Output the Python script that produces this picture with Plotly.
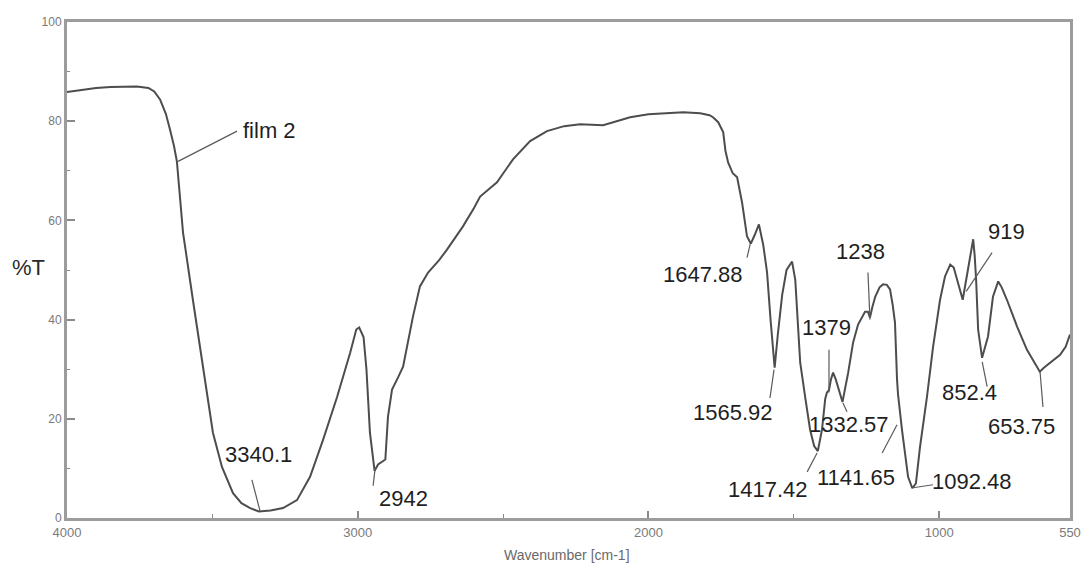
import plotly.graph_objects as go

# FTIR transmittance spectrum of film 2
wavenumber = [
    4000, 3950, 3900, 3850, 3800, 3760, 3720, 3700, 3680, 3660, 3646, 3632, 3622,
    3601, 3567, 3532, 3498, 3467, 3429, 3400, 3370, 3340.1, 3300, 3257, 3209, 3164,
    3119, 3071, 3026, 3005, 2995, 2980, 2970, 2958, 2942, 2930, 2915, 2905, 2896,
    2882, 2860, 2844, 2810, 2786, 2758, 2720, 2693, 2638, 2600, 2579, 2521, 2466,
    2407, 2349, 2290, 2235, 2156, 2100, 2063, 2000, 1950, 1880, 1822, 1790, 1778,
    1760, 1743, 1735, 1726, 1710, 1695, 1686, 1678, 1661, 1647.88, 1635, 1620, 1605,
    1592, 1580, 1565.92, 1555, 1540, 1525, 1506, 1495, 1478, 1460, 1444, 1430,
    1417.42, 1403, 1392, 1386, 1379, 1372, 1365, 1356, 1348, 1332.57, 1313, 1296,
    1279, 1255, 1245, 1238, 1230, 1220, 1205, 1193, 1180, 1169, 1160, 1152, 1145,
    1141.65, 1128, 1107, 1092.48, 1080, 1066, 1042, 1021, 997, 980, 962, 950, 938,
    919, 901, 890, 883, 878, 873, 866, 852.4, 832, 815, 797, 785, 767, 732, 698,
    663, 653.75, 640, 619, 584, 565, 556, 550,
]
transmittance = [
    85.9, 86.3, 86.7, 86.9, 87.0, 87.0, 86.7, 86.0, 84.4, 81.5, 78.4, 75.0, 71.9,
    57.6, 44.0, 30.5, 17.2, 10.3, 5.0, 3.0, 2.0, 1.3, 1.5, 2.0, 3.6, 8.3,
    15.8, 24.4, 33.3, 38.0, 38.4, 36.5, 30.0, 17.2, 9.5, 10.8, 11.3, 11.8, 20.4,
    25.9, 28.5, 30.5, 40.6, 46.7, 49.5, 52.0, 54.1, 58.8, 62.5, 64.8, 67.7, 72.3,
    76.0, 78.0, 79.0, 79.4, 79.2, 80.2, 80.8, 81.4, 81.6, 81.8, 81.6, 81.2, 80.8,
    79.8, 77.8, 74.0, 71.7, 69.5, 68.7, 66.0, 63.6, 56.8, 55.3, 57.0, 59.2, 55.0,
    49.5, 40.0, 30.3, 37.0, 45.0, 50.0, 51.7, 48.0, 31.3, 24.0, 17.8, 14.5,
    13.5, 17.8, 24.0, 25.3, 25.8, 28.0, 29.3, 28.0, 26.5, 23.4, 29.3, 35.4,
    39.0, 41.6, 41.6, 40.4, 42.5, 44.6, 46.5, 47.1, 47.0, 46.1, 43.0, 39.4, 28.0,
    25.0, 17.8, 8.3, 6.0, 7.0, 14.3, 24.4, 34.5, 44.0, 48.7, 51.1, 50.5, 48.1,
    44.0, 50.1, 54.0, 56.2, 53.0, 48.1, 38.0, 32.3, 36.6, 44.6, 47.7, 46.5, 44.0, 38.6, 33.9,
    30.5, 29.5, 30.3, 31.3, 32.9, 34.5, 36.0, 37.0,
]

# Axis ticks
x_tick_vals = [4000, 3000, 2000, 1000, 550]
x_tick_text = ["4000", "3000", "2000", "1000", "550"]
y_tick_vals = [0, 20, 40, 60, 80, 100]
y_tick_text = ["0", "20", "40", "60", "80", "100"]

# Peak labels
label_texts = ["film 2", "3340.1", "2942", "1647.88", "1565.92", "1417.42", "1379",
               "1332.57", "1238", "1141.65", "1092.48", "919", "852.4", "653.75"]

# Label placement: text centre (wavenumber, %T) and leader line end points
label_pos = [
    (3302, 78.2), (3340, 12.9), (2844, 4.0), (1812, 49.1), (1709, 21.2),
    (1589, 5.7), (1389, 38.4), (1310, 18.8), (1269, 53.7), (1286, 8.1),
    (887, 7.3), (770, 57.8), (897, 25.3), (718, 18.4),
]
leaders = [
    ((3618, 71.9), (3415, 78.0)),
    ((3364, 7.7), (3336, 1.4)),
    ((2940, 10.1), (2947, 6.5)),
    ((1650, 55.2), (1661, 52.5)),
    ((1568, 29.9), (1582, 24.2)),
    ((1420, 13.1), (1454, 9.3)),
    ((1379, 33.9), (1379, 25.3)),
    ((1331, 23.2), (1317, 21.4)),
    ((1245, 49.5), (1238, 40.0)),
    ((1145, 18.8), (1196, 13.1)),
    ((1090, 6.1), (1021, 6.7)),
    ((907, 45.7), (818, 53.5)),
    ((852, 31.5), (835, 26.5)),
    ((653, 29.5), (643, 22.4)),
]

AXIS_GREY = "#9c9c9c"
LABEL_FONT = dict(family="Liberation Sans, Arial, sans-serif", size=22, color="#1f1f1f")

fig = go.Figure()
fig.add_trace(go.Scatter(
    x=wavenumber, y=transmittance, mode="lines",
    line=dict(color="#4d4d4d", width=2),
    showlegend=False, hoverinfo="x+y",
))

for text, (lx, ly) in zip(label_texts, label_pos):
    fig.add_annotation(x=lx, y=ly, xref="x", yref="y", text=text,
                       showarrow=False, font=LABEL_FONT,
                       xanchor="center", yanchor="middle")

for (p0, p1) in leaders:
    fig.add_shape(type="line", xref="x", yref="y",
                  x0=p0[0], y0=p0[1], x1=p1[0], y1=p1[1],
                  line=dict(color="#5a5a5a", width=1.2))

fig.update_layout(
    width=1082, height=565,
    margin=dict(l=67, r=12, t=22, b=47, autoexpand=False),
    paper_bgcolor="white", plot_bgcolor="white",
    font=dict(family="Liberation Sans, Arial, sans-serif"),
    xaxis=dict(
        range=[4000, 550], tickmode="array",
        tickvals=x_tick_vals, ticktext=x_tick_text,
        ticks="inside", ticklen=7, tickwidth=1.5, tickcolor="#8a8a8a",
        minor=dict(tickvals=[3500, 2500, 1500], ticks="inside", ticklen=4,
                   tickcolor="#8a8a8a", tickwidth=1),
        showline=True, linecolor=AXIS_GREY, linewidth=3, mirror=True,
        showgrid=False, zeroline=False, automargin=False,
        tickfont=dict(size=13, color="#7a7a7a"),
        title=None,
    ),
    yaxis=dict(
        range=[0, 100], tickmode="array",
        tickvals=y_tick_vals, ticktext=y_tick_text,
        ticks="inside", ticklen=8, tickwidth=1.5, tickcolor="#8a8a8a",
        minor=dict(tickvals=[10, 30, 50, 70, 90], ticks="inside", ticklen=3,
                   tickcolor="#8a8a8a", tickwidth=1),
        showline=True, linecolor=AXIS_GREY, linewidth=3, mirror=True,
        showgrid=False, zeroline=False, automargin=False,
        tickfont=dict(size=12, color="#7a7a7a"),
        title=None,
    ),
)

# Axis captions
fig.add_annotation(x=0.4985, y=-0.075, xref="paper", yref="paper",
                   text="Wavenumber [cm-1]", showarrow=False,
                   font=dict(size=14, color="#6a6a6a"),
                   xanchor="center", yanchor="middle")
fig.add_annotation(x=-0.057, y=0.506, xref="paper", yref="paper", text="%T",
                   showarrow=False, font=dict(size=22, color="#2a2a2a"),
                   xanchor="left", yanchor="middle")

fig.write_html("out.html")
